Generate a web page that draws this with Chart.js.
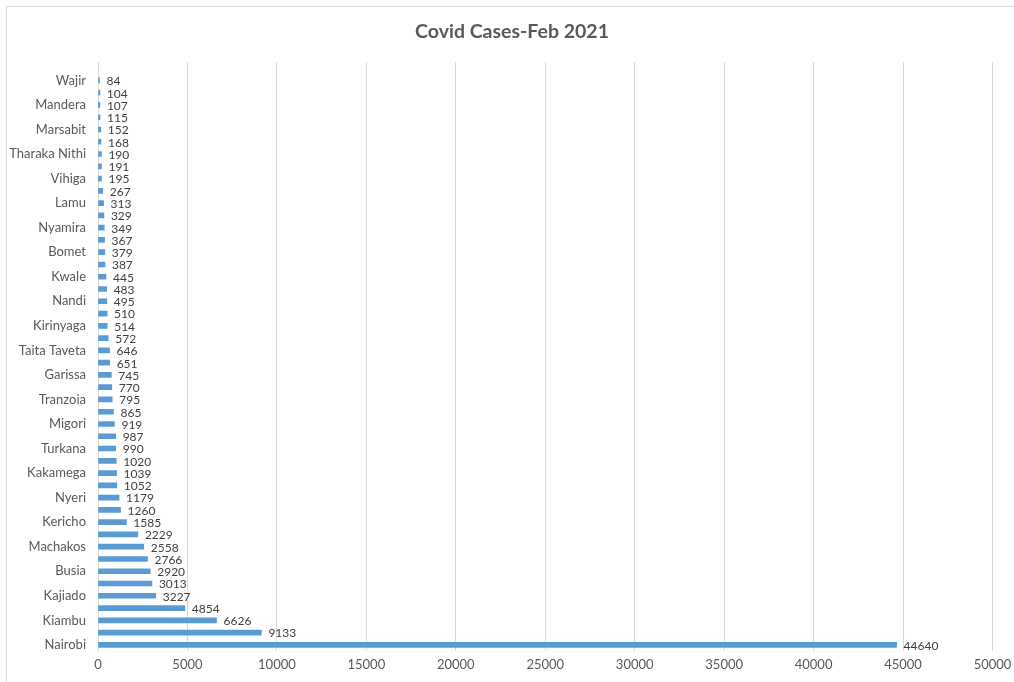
<!DOCTYPE html>
<html>
<head>
<meta charset="utf-8">
<script src="https://cdn.jsdelivr.net/npm/chart.js@4/dist/chart.umd.min.js"></script>
<style>
  html, body { margin: 0; padding: 0; background: #ffffff; }
  #wrap { position: relative; width: 1014px; height: 682px; overflow: hidden; }
  #frame { position: absolute; left: 6px; top: 6px; width: 1030px; height: 690px; border: 1px solid #d9d9d9; box-sizing: border-box; pointer-events: none; }
  canvas { position: absolute; left: 0; top: 0; }
</style>
</head>
<body>
<div id="wrap">
  <canvas id="c" width="1014" height="682"></canvas>
  <div id="frame"></div>
</div>
<script>
const chartTitle = "Covid Cases-Feb 2021";

const categories = ["", "Wajir", "West Pokot", "Mandera", "Samburu", "Marsabit", "Tana River",
  "Tharaka Nithi", "Elgeyo Marakwet", "Vihiga", "Isiolo", "Lamu", "Baringo", "Nyamira", "Narok",
  "Bomet", "Bungoma", "Kwale", "Homa Bay", "Nandi", "Kitui", "Kirinyaga", "Makueni", "Taita Taveta",
  "Nyandarua", "Garissa", "Siaya", "Tranzoia", "Laikipia", "Migori", "Meru", "Turkana", "Kisii",
  "Kakamega", "Embu", "Nyeri", "Murang'a", "Kericho", "Kilifi", "Machakos", "Kisumu", "Busia",
  "Uasin Gishu", "Kajiado", "Nakuru", "Kiambu", "Mombasa", "Nairobi"];

const cases = [null, 84, 104, 107, 115, 152, 168, 190, 191, 195, 267, 313, 329, 349, 367, 379, 387,
  445, 483, 495, 510, 514, 572, 646, 651, 745, 770, 795, 865, 919, 987, 990, 1020, 1039, 1052,
  1179, 1260, 1585, 2229, 2558, 2766, 2920, 3013, 3227, 4854, 6626, 9133, 44640];

const xTicks = [0, 5000, 10000, 15000, 20000, 25000, 30000, 35000, 40000, 45000, 50000];

const textColor = "#595959";
const fontFamily = "Lato, 'Open Sans', sans-serif";

const titlePlugin = {
  id: 'titleDraw',
  afterDraw(chart) {
    const ctx = chart.ctx;
    ctx.save();
    ctx.font = "bold 19.5px " + fontFamily;
    ctx.fillStyle = textColor;
    ctx.textAlign = "center";
    ctx.textBaseline = "middle";
    ctx.fillText(chartTitle, 512, 32);
    ctx.restore();
  }
};

const valueLabels = {
  id: 'valueLabels',
  afterDatasetsDraw(chart) {
    const ctx = chart.ctx;
    const meta = chart.getDatasetMeta(0);
    ctx.save();
    ctx.font = "12px " + fontFamily;
    ctx.fillStyle = "#404040";
    ctx.textAlign = "left";
    ctx.textBaseline = "middle";
    meta.data.forEach((bar, i) => {
      const v = cases[i];
      if (v === null || v === undefined) return;
      ctx.fillText(String(v), bar.x + 7, bar.y + 1);
    });
    ctx.restore();
  }
};

new Chart(document.getElementById('c'), {
  type: 'bar',
  data: {
    labels: categories,
    datasets: [{
      data: cases,
      backgroundColor: "#5B9BD5",
      borderWidth: 0,
      barThickness: 5
    }]
  },
  options: {
    indexAxis: 'y',
    responsive: false,
    animation: false,
    layout: { padding: { top: 62, right: 21.5, left: 0, bottom: 0 } },
    plugins: {
      legend: { display: false },
      title: { display: false },
      tooltip: { enabled: false }
    },
    scales: {
      x: {
        min: 0,
        max: 50000,
        afterBuildTicks(scale) { scale.ticks = xTicks.map(v => ({ value: v })); },
        afterFit(scale) { scale.height = 31; scale.paddingLeft = 0; scale.paddingRight = 0; },
        grid: { color: "#d9d9d9", lineWidth: 1, drawTicks: false },
        border: { display: false },
        ticks: {
          color: textColor,
          font: { family: fontFamily, size: 13 },
          padding: 6,
          maxRotation: 0,
          callback: (v) => String(v)
        }
      },
      y: {
        afterFit(scale) { scale.width = 98; },
        grid: { display: false, drawTicks: false },
        border: { display: false },
        ticks: {
          autoSkip: false,
          color: textColor,
          font: { family: fontFamily, size: 13 },
          padding: 12,
          callback: (v, i) => (i % 2 === 1 ? categories[i] : "")
        }
      }
    }
  },
  plugins: [titlePlugin, valueLabels]
});
</script>
</body>
</html>
